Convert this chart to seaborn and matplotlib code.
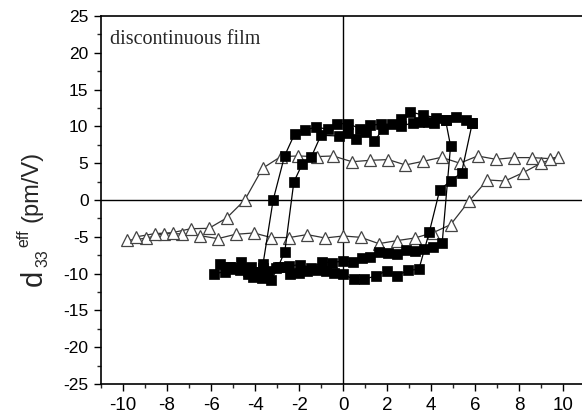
import matplotlib
matplotlib.use("Agg")
import matplotlib.pyplot as plt
import seaborn as sns
import numpy as np
import pandas as pd
from matplotlib.ticker import MultipleLocator

# ---- data ----
# filled squares, first loop (sequence of measurement)
sq1_v = [5.87, 5.6, 5.12, 4.24, 3.64, 3.05, 2.65, 2.21, 1.71, 1.21, 0.76, 0.23, -0.26, -0.68,
         -1.24, -1.74, -2.2, -2.66, -3.18, -3.64, -3.68, -4.09, -4.32, -4.7, -5.38, -5.88,
         -5.6, -5.15, -4.65, -4.17, -3.64, -3.06, -2.42, -2.01, -1.64, -1.21, -0.8, -0.41, 0.0,
         0.5, 0.96, 1.47, 1.97, 2.45, 2.95, 3.44, 3.91, 4.39, 4.9, 5.38, 5.87]
sq1_d = [10.5, 10.87, 11.3, 11.2, 11.5, 12.0, 10.96, 10.3, 10.3, 10.15, 9.7, 10.38, 10.38, 9.6,
         9.92, 9.47, 9.0, 6.0, 0.0, -8.7, -10.6, -10.4, -10.1, -9.55, -9.78, -10.0,
         -8.65, -9.1, -8.37, -9.1, -9.3, -9.28, -10.1, -9.87, -9.64, -9.55, -9.64, -9.87, -10.1,
         -10.8, -10.8, -10.3, -9.64, -10.3, -9.55, -9.42, -4.4, 1.4, 2.63, 3.72, 10.5]
# filled squares, second loop
sq2_v = [4.65, 4.12, 3.86, 3.44, 3.18, 2.65, 1.82, 1.42, 1.02, 0.6, 0.23, -0.2, -1.01, -1.44,
         -1.85, -2.24, -2.65, -2.95, -3.27, -3.86, -4.47, -4.92, -5.15, -4.3, -3.41, -2.88,
         -2.44, -1.97, -1.44, -0.98, -0.5, 0.0, 0.43, 0.84, 1.24, 1.64, 2.05, 2.45, 2.85,
         3.26, 3.67, 4.09, 4.5, 4.88, 4.65]
sq2_d = [10.87, 10.5, 10.6, 10.6, 10.5, 10.05, 9.7, 8.0, 9.25, 8.25, 9.06, 8.7, 8.79, 5.9,
         4.94, 2.45, -7.0, -9.05, -10.9, -9.8, -9.4, -9.4, -9.1, -9.6, -9.6, -9.05,
         -8.96, -8.78, -9.2, -8.42, -8.5, -8.3, -8.4, -7.83, -7.74, -7.06, -7.15, -7.38, -6.74,
         -6.97, -6.6, -6.33, -5.8, 7.34, 10.87]
# open triangles
tri_v = [-9.8, -8.97, -8.15, -7.33, -6.51, -5.69, -4.89, -4.06, -3.27, -2.44, -1.64, -0.82, 0.0,
         0.8, 1.62, 2.44, 3.26, 4.09, 4.88, 5.71, 6.55, 7.35, 8.18, 8.97, 9.77,
         9.4, 8.58, 7.76, 6.94, 6.11, 5.3, 4.47, 3.64, 2.83, 2.05, 1.21, 0.4, -0.45, -1.21,
         -2.03, -2.83, -3.66, -4.47, -5.29, -6.1, -6.92, -7.75, -8.56, -9.39]
tri_d = [-5.48, -5.2, -4.57, -4.6, -4.84, -5.25, -4.66, -4.48, -5.1, -5.1, -4.7, -5.16, -4.89,
         -5.07, -5.93, -5.52, -5.16, -4.43, -3.35, -0.18, 2.72, 2.58, 3.72, 4.99, 5.85,
         5.62, 5.76, 5.76, 5.53, 5.98, 5.0, 5.8, 5.26, 4.76, 5.49, 5.39, 5.2, 5.98, 5.9,
         5.98, 5.9, 4.31, 0.0, -2.44, -3.85, -3.9, -4.43, -4.57, -5.0]

x_ticks = [-10, -8, -6, -4, -2, 0, 2, 4, 6, 8, 10]
y_ticks = [-25, -20, -15, -10, -5, 0, 5, 10, 15, 20, 25]
annotation = "discontinuous film"
ylabel_parts = ["d", "33", "eff", "(pm/V)"]

# ---- plot ----
sns.set_style("ticks")
plt.rcParams['font.family'] = ['Liberation Sans', 'DejaVu Sans']

W, H = 582, 416
fig = plt.figure(figsize=(W / 100, H / 100), dpi=100)
ax = fig.add_axes([101 / W, 1 - 384 / H, (585.3 - 101) / W, (384 - 16) / H])

ax.axhline(0, color='black', lw=1.0, zorder=1)
ax.axvline(0, color='black', lw=1.0, zorder=1)

df_t = pd.DataFrame({'v': tri_v, 'd': tri_d})
sns.lineplot(data=df_t, x='v', y='d', sort=False, estimator=None, ax=ax,
             color='#333333', lw=0.9, marker='^', markersize=8.5,
             markerfacecolor='white', markeredgecolor='#444444', markeredgewidth=0.9, zorder=2)
for v, d in [(sq1_v, sq1_d), (sq2_v, sq2_d)]:
    df_s = pd.DataFrame({'v': v, 'd': d})
    sns.lineplot(data=df_s, x='v', y='d', sort=False, estimator=None, ax=ax,
                 color='black', lw=0.9, marker='s', markersize=6.5,
                 markerfacecolor='black', markeredgecolor='black', markeredgewidth=0.5, zorder=3)

ax.set_xlim(-11, 11)
ax.set_ylim(-25, 25)
ax.set_xticks(x_ticks)
ax.set_yticks(y_ticks)
ax.set_xticklabels([str(t) for t in x_ticks])
ax.set_yticklabels([str(t) for t in y_ticks])
ax.xaxis.set_minor_locator(MultipleLocator(1))
ax.yaxis.set_minor_locator(MultipleLocator(2.5))
ax.tick_params(which='major', direction='out', length=5, width=1.0,
               colors='black')
ax.tick_params(axis='y', which='major', labelsize=12.5, pad=4)
ax.tick_params(axis='x', which='major', labelsize=13.5, pad=4)
ax.tick_params(which='minor', direction='out', length=3, width=1.0)
for s in ['top', 'left', 'bottom', 'right']:
    ax.spines[s].set_linewidth(1.2)
    ax.spines[s].set_color('black')
ax.set_xlabel('')
ax.set_ylabel('')

# y-axis label built from pieces (rotated, anchored at baseline)
def ftext(px, py, s, size):
    fig.text(px / W, 1 - py / H, s, rotation=90, rotation_mode='anchor',
             ha='left', va='baseline', fontsize=size, family='Liberation Sans')

ftext(42, 286, ylabel_parts[0], 21)
ftext(47, 267, ylabel_parts[1], 11.5)
ftext(28, 247, ylabel_parts[2], 11.5)
ftext(38, 222, ylabel_parts[3], 17)

fig.text(110 / W, 1 - 44 / H, annotation, family='Liberation Serif', fontsize=14.5,
         va='baseline', ha='left')

fig.savefig('out.png', dpi=100)
